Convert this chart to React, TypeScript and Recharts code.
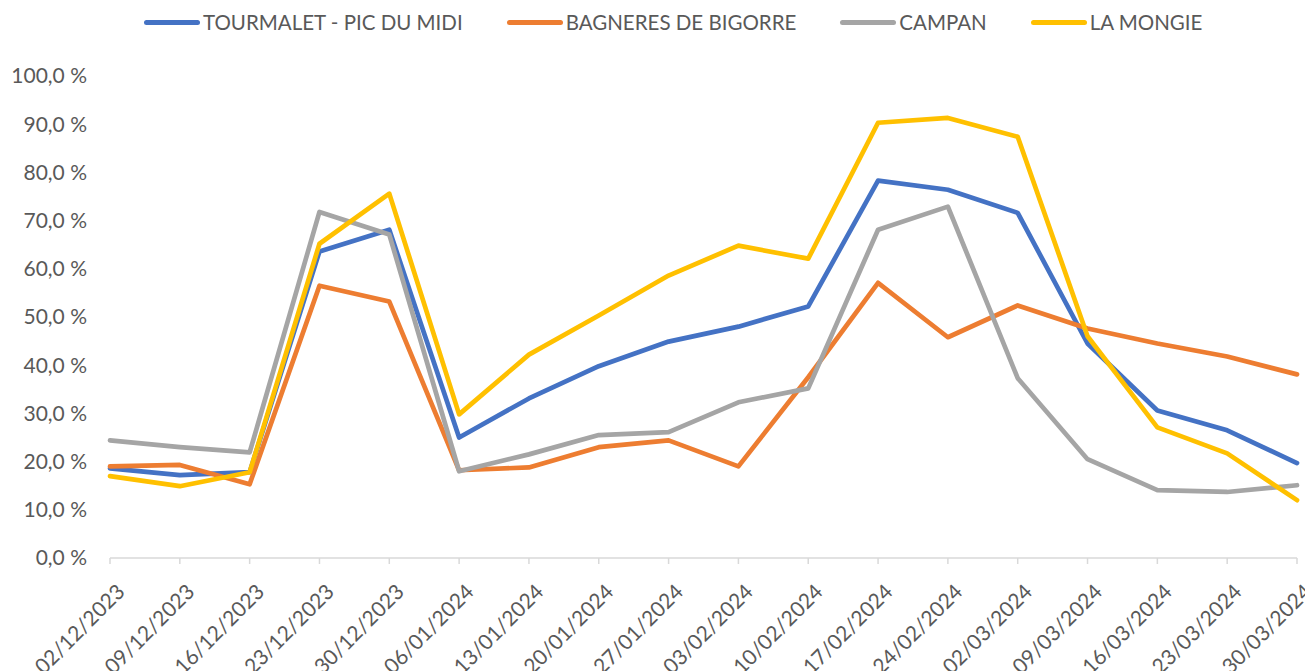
import { LineChart, Line, XAxis, YAxis } from 'recharts'

const dates = [
  '02/12/2023', '09/12/2023', '16/12/2023', '23/12/2023', '30/12/2023', '06/01/2024',
  '13/01/2024', '20/01/2024', '27/01/2024', '03/02/2024', '10/02/2024', '17/02/2024',
  '24/02/2024', '02/03/2024', '09/03/2024', '16/03/2024', '23/03/2024', '30/03/2024',
]

const tourmalet = [18.6, 17.2, 17.8, 63.6, 68.1, 25.0, 33.1, 39.8, 44.9, 48.0, 52.2, 78.3, 76.4, 71.6, 44.5, 30.6, 26.5, 19.7]
const bagneres = [19.0, 19.3, 15.3, 56.5, 53.2, 18.2, 18.8, 23.0, 24.4, 19.0, 37.5, 57.1, 45.8, 52.4, 47.6, 44.5, 41.8, 38.1]
const campan = [24.4, 23.0, 21.9, 71.8, 67.1, 18.0, 21.5, 25.5, 26.1, 32.3, 35.2, 68.1, 72.9, 37.3, 20.5, 14.1, 13.7, 15.1]
const mongie = [17.0, 14.9, 17.8, 65.2, 75.6, 29.8, 42.2, 50.3, 58.6, 64.8, 62.1, 90.3, 91.3, 87.4, 46.0, 27.1, 21.7, 12.0]

const yTicks = [0, 10, 20, 30, 40, 50, 60, 70, 80, 90, 100]

const series = [
  { key: 'tourmalet', name: 'TOURMALET - PIC DU MIDI', color: '#4472C4' },
  { key: 'bagneres', name: 'BAGNERES DE BIGORRE', color: '#ED7D31' },
  { key: 'campan', name: 'CAMPAN', color: '#A5A5A5' },
  { key: 'mongie', name: 'LA MONGIE', color: '#FFC000' },
]

const data = dates.map((d, i) => ({
  date: d,
  tourmalet: tourmalet[i],
  bagneres: bagneres[i],
  campan: campan[i],
  mongie: mongie[i],
}))

const FONT = 'Lato, "Open Sans", sans-serif'
const TEXT = '#595959'

const formatPct = (v: number) => `${v.toFixed(1).replace('.', ',')} %`

// rotated date labels, end of text sits just right of the tick
const DateTick = ({ x, y, payload }: any) => (
  <g transform={`translate(${x + 10},${y + 21})`}>
    <text
      textAnchor="end"
      dominantBaseline="central"
      transform="rotate(-45)"
      fill={TEXT}
      fontSize={21}
      fontFamily={FONT}
    >
      {payload.value}
    </text>
  </g>
)

export default function App() {
  return (
    <div style={{ position: 'absolute', left: 0, top: 0, width: 1305, height: 671, background: '#fff', fontFamily: FONT }}>
      <div
        style={{
          position: 'absolute',
          top: 10,
          left: 144,
          display: 'flex',
          alignItems: 'center',
          fontSize: 20.5,
          color: TEXT,
          whiteSpace: 'nowrap',
        }}
      >
        {series.map((s, i) => (
          <div key={s.key} style={{ display: 'flex', alignItems: 'center', marginRight: i < series.length - 1 ? 44 : 0 }}>
            <div style={{ width: 56, height: 5, borderRadius: 3, background: s.color, marginRight: 3 }} />
            <span>{s.name}</span>
          </div>
        ))}
      </div>
      <LineChart width={1305} height={671} data={data} margin={{ top: 76, right: 8, left: 0, bottom: 0 }}>
        <XAxis
          dataKey="date"
          height={113}
          interval={0}
          axisLine={{ stroke: '#D9D9D9', strokeWidth: 1.5 }}
          tickLine={{ stroke: '#D9D9D9', strokeWidth: 1.5 }}
          tickSize={6}
          tick={<DateTick />}
        />
        <YAxis
          width={110}
          domain={[0, 100]}
          ticks={yTicks}
          tickFormatter={formatPct}
          axisLine={false}
          tickLine={false}
          tickMargin={17}
          tick={{ fontSize: 21, fill: TEXT, fontFamily: FONT }}
        />
        {series.map((s) => (
          <Line
            key={s.key}
            type="linear"
            dataKey={s.key}
            name={s.name}
            stroke={s.color}
            strokeWidth={4.7}
            strokeLinecap="round"
            strokeLinejoin="round"
            dot={false}
            activeDot={false}
            isAnimationActive={false}
          />
        ))}
      </LineChart>
    </div>
  )
}
